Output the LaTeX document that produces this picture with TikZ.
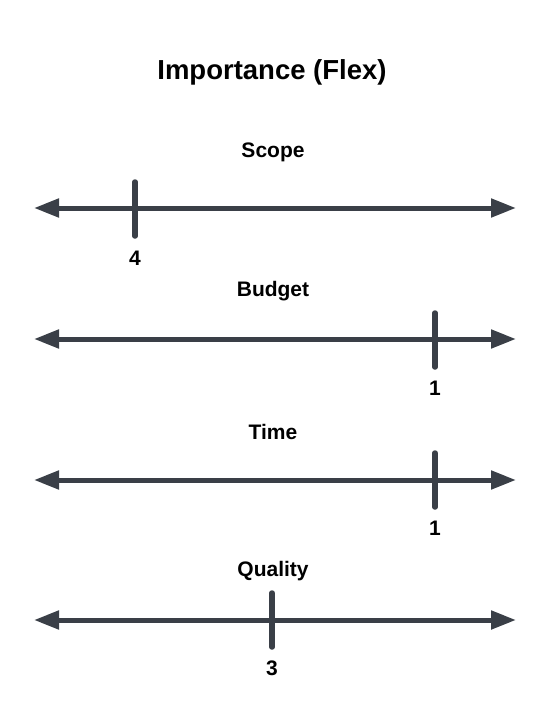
\documentclass[tikz,border=0pt]{standalone}
\usepackage{fontspec}
\setmainfont{Liberation Sans}
\usetikzlibrary{arrows.meta}
\definecolor{axis}{HTML}{3A3F47}
\tikzset{
  axisline/.style={draw=axis, line width=5pt, {Triangle[length=25pt,width=18pt]}-{Triangle[length=25pt,width=18pt]}},
  tickmark/.style={draw=axis, line width=5.5pt, line cap=round},
  heading/.style={font=\bfseries\fontsize{21}{24}\selectfont, text=black},
  numlabel/.style={font=\bfseries\fontsize{21}{24}\selectfont, text=black},
  maintitle/.style={font=\bfseries\fontsize{27.5}{30}\selectfont, text=black}
}
\begin{document}
\begin{tikzpicture}[x=1pt,y=-1pt]
\useasboundingbox (0,0) rectangle (549,725);
\node[maintitle] (title) at (272,72) {Importance (Flex)};
% Scope
\node[heading] (hs) at (273,152) {Scope};
\coordinate (sL) at (34,208); \coordinate (sR) at (516,208);
\draw[axisline] (sL) -- (sR);
\coordinate (sT1) at (135,182); \coordinate (sT2) at (135,236);
\draw[tickmark] (sT1) -- (sT2);
\node[numlabel] (ns) at (135,258) {4};
% Budget
\node[heading] (hb) at (273,291) {Budget};
\coordinate (bL) at (34,339); \coordinate (bR) at (516,339);
\draw[axisline] (bL) -- (bR);
\coordinate (bT1) at (435,313); \coordinate (bT2) at (435,367);
\draw[tickmark] (bT1) -- (bT2);
\node[numlabel] (nb) at (435,388) {1};
% Time
\node[heading] (ht) at (273,432) {Time};
\coordinate (tL) at (34,480); \coordinate (tR) at (516,480);
\draw[axisline] (tL) -- (tR);
\coordinate (tT1) at (435,453); \coordinate (tT2) at (435,507);
\draw[tickmark] (tT1) -- (tT2);
\node[numlabel] (nt) at (435,528) {1};
% Quality
\node[heading] (hq) at (273,571) {Quality};
\coordinate (qL) at (34,620); \coordinate (qR) at (516,620);
\draw[axisline] (qL) -- (qR);
\coordinate (qT1) at (272,593); \coordinate (qT2) at (272,647);
\draw[tickmark] (qT1) -- (qT2);
\node[numlabel] (nq) at (272,668) {3};
\end{tikzpicture}
\end{document}
